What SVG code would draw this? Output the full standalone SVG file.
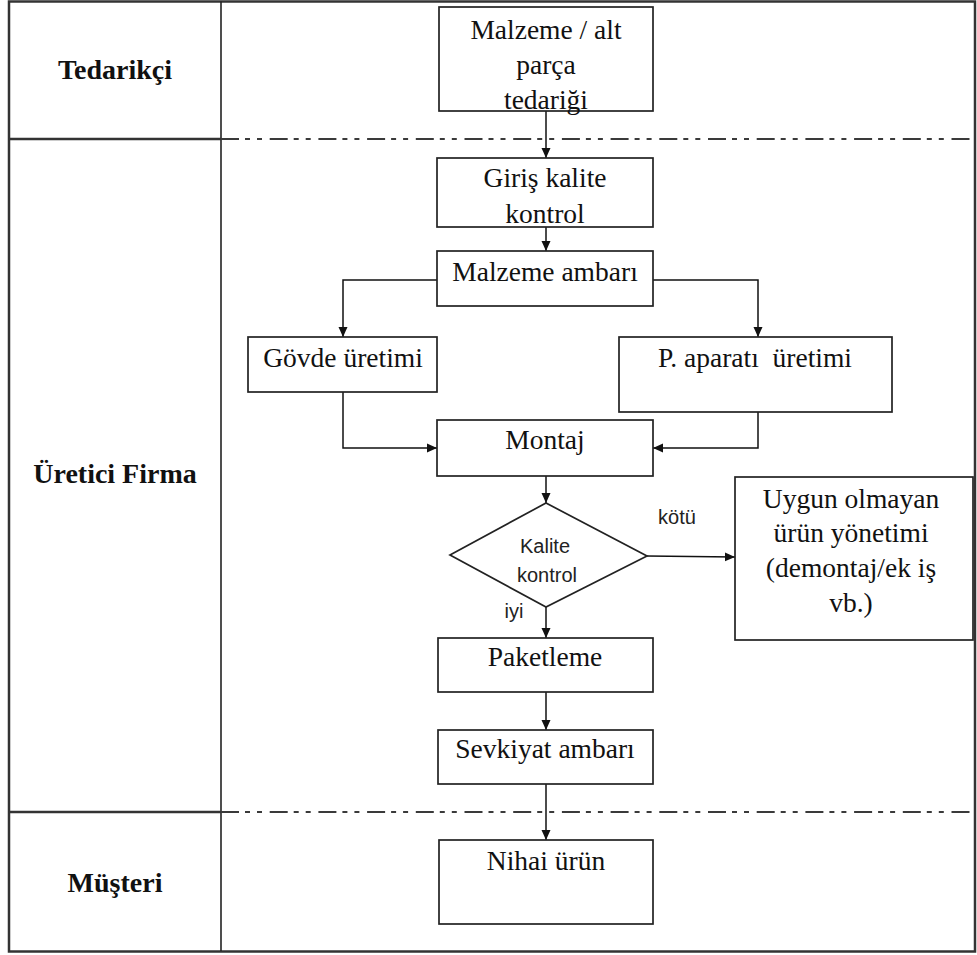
<svg xmlns="http://www.w3.org/2000/svg" width="977" height="955" viewBox="0 0 977 955">
  <defs>
    <marker id="arrow" viewBox="0 0 10 10" refX="10" refY="5" markerWidth="10" markerHeight="10" markerUnits="userSpaceOnUse" orient="auto">
      <path d="M0,0.5 L10,5 L0,9.5 Z" fill="#111"/>
    </marker>
    <style>
      .lane { fill: none; stroke: #333; stroke-width: 2.5; }
      .divider { fill: none; stroke: #222; stroke-width: 1.6; }
      .sep { fill: none; stroke: #333; stroke-width: 2.5; }
      .dashsep { fill: none; stroke: #3a3a3a; stroke-width: 2.2; stroke-dasharray: 18 6 5 7 5 7.7; }
      .box { fill: #fff; stroke: #222; stroke-width: 1.7; }
      .conn { fill: none; stroke: #111; stroke-width: 1.5; }
      .arr { marker-end: url(#arrow); }
      .t { font-family: "Liberation Serif", "Times New Roman", serif; font-size: 27.5px; fill: #111; text-anchor: middle; }
      .lbl { font-family: "Liberation Serif", "Times New Roman", serif; font-size: 28px; font-weight: bold; fill: #111; text-anchor: middle; }
      .s { font-family: "Liberation Sans", Arial, sans-serif; font-size: 20px; fill: #222; text-anchor: middle; }
    </style>
  </defs>

  <rect width="977" height="955" fill="#fff"/>

  <!-- swimlane frame -->
  <g id="lanes">
    <rect class="lane" x="9" y="1.5" width="966" height="950"/>
    <line class="divider" x1="221" y1="1.5" x2="221" y2="951"/>
    <line class="sep" x1="9" y1="139" x2="221" y2="139"/>
    <line class="dashsep" x1="221" y1="139" x2="975" y2="139"/>
    <line class="sep" x1="9" y1="812" x2="221" y2="812"/>
    <line class="dashsep" x1="221" y1="812" x2="975" y2="812"/>
    <text class="lbl" x="115" y="79">Tedarikçi</text>
    <text class="lbl" x="115" y="483">Üretici Firma</text>
    <text class="lbl" x="115" y="892">Müşteri</text>
  </g>

  <!-- connectors -->
  <g id="connectors">
    <line class="conn arr" x1="546" y1="111" x2="546" y2="158"/>
    <line class="conn arr" x1="546" y1="227" x2="546" y2="251"/>
    <polyline class="conn arr" points="437,280 343,280 343,337"/>
    <polyline class="conn arr" points="653,280 758,280 758,337"/>
    <polyline class="conn arr" points="343,392 343,448 437,448"/>
    <polyline class="conn arr" points="758,412 758,448 653,448"/>
    <line class="conn arr" x1="546" y1="476" x2="546" y2="503"/>
    <line class="conn arr" x1="647" y1="556" x2="735" y2="557"/>
    <line class="conn arr" x1="546" y1="607" x2="546" y2="638"/>
    <line class="conn arr" x1="546" y1="692" x2="546" y2="730"/>
    <line class="conn arr" x1="546" y1="784" x2="546" y2="840"/>
    <text class="s" x="677" y="524">kötü</text>
    <text class="s" x="514" y="618">iyi</text>
  </g>

  <g id="supply">
    <rect class="box" x="439" y="7" width="214" height="104"/>
    <text class="t" x="546" y="39">Malzeme / alt</text>
    <text class="t" x="546" y="74">parça</text>
    <text class="t" x="546" y="109">tedariği</text>
  </g>

  <g id="incoming-qc">
    <rect class="box" x="437" y="158" width="216" height="69"/>
    <text class="t" x="545" y="187">Giriş kalite</text>
    <text class="t" x="545" y="223">kontrol</text>
  </g>

  <g id="material-store">
    <rect class="box" x="437" y="251" width="216" height="55"/>
    <text class="t" x="545" y="281">Malzeme ambarı</text>
  </g>

  <g id="body-production">
    <rect class="box" x="248" y="337" width="189" height="55"/>
    <text class="t" x="343" y="367">Gövde üretimi</text>
  </g>

  <g id="part-production">
    <rect class="box" x="619" y="337" width="273" height="75"/>
    <text class="t" x="755" y="367" xml:space="preserve">P. aparatı  üretimi</text>
  </g>

  <g id="assembly">
    <rect class="box" x="437" y="420" width="216" height="56"/>
    <text class="t" x="545" y="449">Montaj</text>
  </g>

  <g id="quality-check">
    <polygon class="box" points="450,555 546,503 647,556 546,607"/>
    <text class="s" x="545" y="553">Kalite</text>
    <text class="s" x="547" y="582">kontrol</text>
  </g>

  <g id="nonconforming">
    <rect class="box" x="735" y="477" width="238" height="163"/>
    <text class="t" x="851" y="508">Uygun olmayan</text>
    <text class="t" x="851" y="542">ürün yönetimi</text>
    <text class="t" x="851" y="577">(demontaj/ek iş</text>
    <text class="t" x="851" y="612">vb.)</text>
  </g>

  <g id="packaging">
    <rect class="box" x="438" y="638" width="215" height="54"/>
    <text class="t" x="545" y="666">Paketleme</text>
  </g>

  <g id="shipping-store">
    <rect class="box" x="438" y="730" width="215" height="54"/>
    <text class="t" x="545" y="758">Sevkiyat ambarı</text>
  </g>

  <g id="final-product">
    <rect class="box" x="439" y="840" width="214" height="84"/>
    <text class="t" x="546" y="870">Nihai ürün</text>
  </g>
</svg>
